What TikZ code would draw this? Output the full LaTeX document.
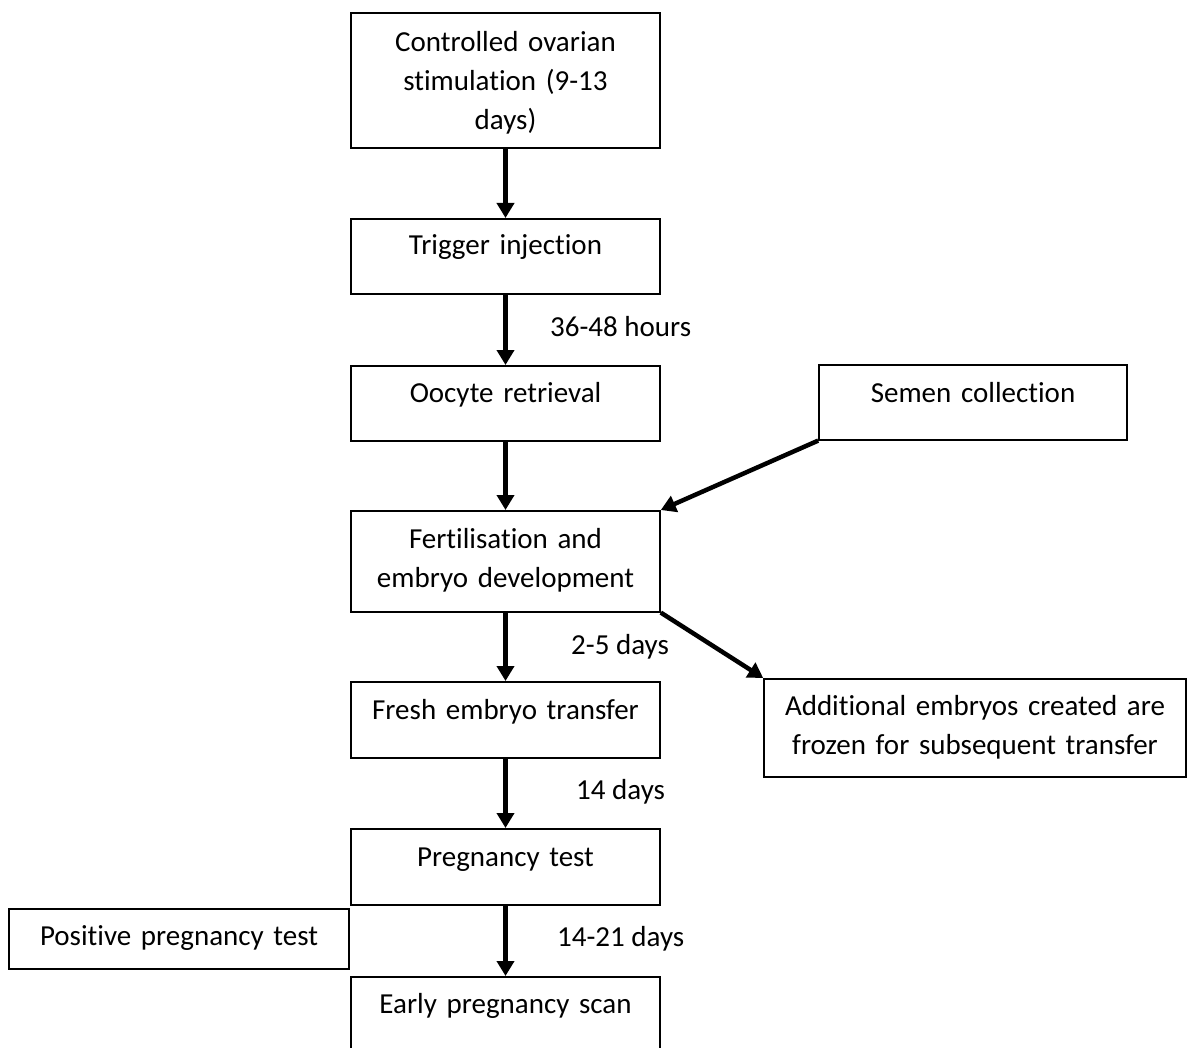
\documentclass[tikz,border=0pt]{standalone}
\usepackage{fontspec}
\setmainfont{Carlito}[Ligatures={NoCommon,NoContextual}]
\usetikzlibrary{arrows.meta}
\tikzset{
	stage/.style={draw, line width=1.6pt, text width=309pt, align=center, inner sep=0pt, anchor=north, text height=38pt, font=\fontsize{29pt}{39pt}\selectfont},
	flow/.style={line width=4.5pt, -{Triangle[width=17pt,length=15pt]}},
	lag/.style={anchor=base west, inner sep=0pt, font=\fontsize{29pt}{39pt}\selectfont}
}
\begin{document}
\begin{tikzpicture}[x=1pt,y=-1pt]
	\useasboundingbox (0,0) rectangle (1190,1048);
	% main column
	\node (cos) at (505.5,12) [stage, text height=39pt, text depth=96pt] {Controlled ovarian\\stimulation (9-13\\days)};
	\node (trigger) at (505.5,218) [stage, text height=36pt, text depth=39pt] {Trigger injection};
	\node (oocyte) at (505.5,365) [stage, text height=37pt, text depth=38pt] {Oocyte retrieval};
	\node (fert) at (505.5,510) [stage, text depth=63pt] {Fertilisation and\\embryo development};
	\node (fresh) at (505.5,681) [stage, text depth=38pt] {Fresh embryo transfer};
	\node (preg) at (505.5,828) [stage, text depth=38pt] {Pregnancy test};
	\node (scan) at (505.5,976) [stage, text height=37pt, text depth=80pt] {Early pregnancy scan};
	% side boxes
	\node (semen) at (973,364) [stage, text width=308pt, text depth=37pt] {Semen collection};
	\node (addl) at (975,678) [stage, text width=422pt, text height=37pt, text depth=61pt] {Additional embryos created are\\frozen for subsequent transfer};
	\node (pos) at (179,908) [stage, text width=340pt, text height=37pt, text depth=23pt] {Positive pregnancy test};
	% arrows
	\draw [flow] (cos.south) -- (trigger.north);
	\draw [flow] (trigger.south) -- (oocyte.north);
	\draw [flow] (oocyte.south) -- (fert.north);
	\draw [flow] (fert.south) -- (fresh.north);
	\draw [flow] (fresh.south) -- (preg.north);
	\draw [flow] (preg.south) -- (scan.north);
	\draw [flow] (semen.south west) -- (fert.north east);
	\draw [flow] (fert.south east) -- (addl.north west);
	% times
	\node (t36) at (550,336) [lag] {36-48 hours};
	\node (t25) at (571,654) [lag] {2-5 days};
	\node (t14) at (576,799) [lag] {14 days};
	\node (t1421) at (557,946) [lag] {14-21 days};
\end{tikzpicture}
\end{document}
